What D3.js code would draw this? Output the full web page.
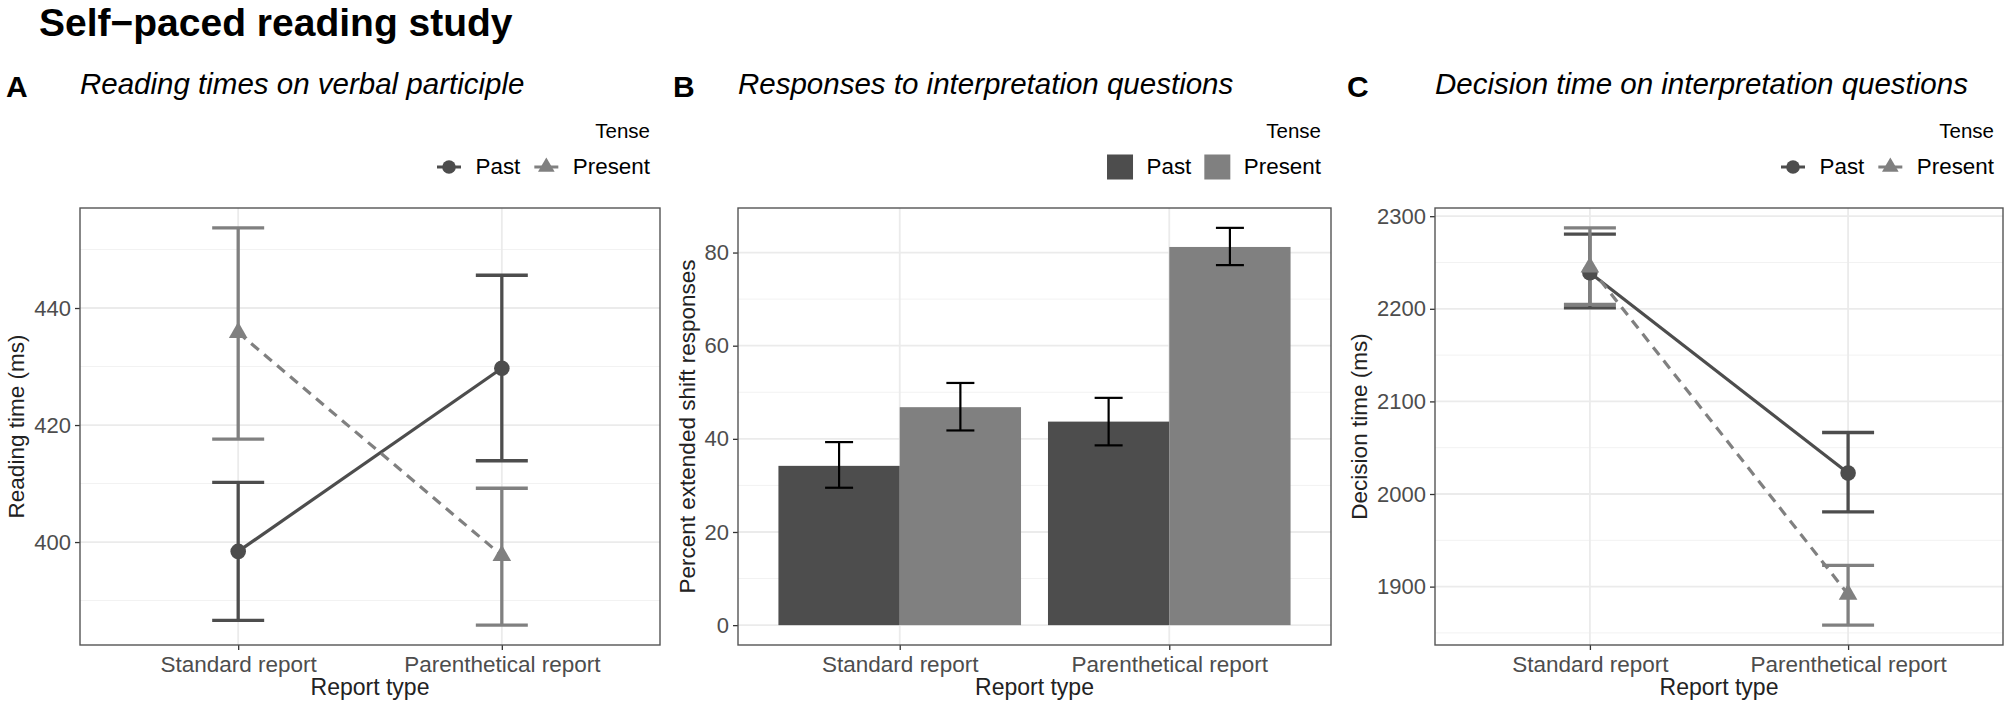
<!DOCTYPE html>
<html>
<head>
<meta charset="utf-8">
<script src="https://cdnjs.cloudflare.com/ajax/libs/d3/7.8.5/d3.min.js"></script>
<style>
  body { margin: 0; background: #fff; }
  text { font-family: "Liberation Sans", Arial, sans-serif; }
</style>
</head>
<body>
<svg id="fig" width="2008" height="707"></svg>
<script>
// categories and groups
const categories = ["Standard report", "Parenthetical report"];
const tenses = ["Past", "Present"];
const tenseColors = ["#4d4d4d", "#808080"];

// A: reading times on verbal participle (ms), mean and CI
const readPast = [398.4, 429.7];
const readPastLo = [386.6, 413.9];
const readPastHi = [410.2, 445.6];
const readPresent = [435.8, 397.7];
const readPresentLo = [417.6, 385.8];
const readPresentHi = [453.7, 409.2];
const readTicks = [400, 420, 440];
const readMinor = [390, 410, 430, 450];

// B: percent extended shift responses
const respPast = [34.2, 43.7];
const respPastLo = [29.5, 38.6];
const respPastHi = [39.3, 48.8];
const respPresent = [46.8, 81.2];
const respPresentLo = [41.8, 77.3];
const respPresentHi = [52.0, 85.3];
const respTicks = [0, 20, 40, 60, 80];
const respMinor = [10, 30, 50, 70];

// C: decision time on interpretation questions (ms)
const decPast = [2239, 2022.6];
const decPastLo = [2201, 1980.6];
const decPastHi = [2280.6, 2066.4];
const decPresent = [2245, 1891.7];
const decPresentLo = [2204.8, 1858.4];
const decPresentHi = [2287.4, 1923];
const decTicks = [1900, 2000, 2100, 2200, 2300];
const decMinor = [1850, 1950, 2050, 2150, 2250];

const svg = d3.select("#fig");
svg.append("rect").attr("width", 2008).attr("height", 707).attr("fill", "#fff");

const TOP = 208, BOTTOM = 645;

svg.append("text").attr("x", 39).attr("y", 36)
  .style("font-size", "39px").style("font-weight", "bold")
  .text("Self\u2212paced reading study");

function expand(lo, hi) {
  const d = (hi - lo) * 0.05;
  return [lo - d, hi + d];
}

// frame: grid, axes, titles, returns scales
function frame(p) {
  const g = svg.append("g");
  const x = d3.scalePoint().domain(categories).range([p.left, p.right]).padding(0.6);
  const y = d3.scaleLinear().domain(p.domain).range([BOTTOM, TOP]);

  g.append("text").attr("x", p.letterX).attr("y", 97)
    .style("font-size", "30px").style("font-weight", "bold").text(p.letter);
  g.append("text").attr("x", p.left).attr("y", 94)
    .style("font-size", "29.5px").style("font-style", "italic").text(p.title);

  g.selectAll(".minor").data(p.minor).join("line")
    .attr("x1", p.left).attr("x2", p.right)
    .attr("y1", d => y(d)).attr("y2", d => y(d))
    .attr("stroke", "#f2f2f2").attr("stroke-width", 1);
  g.selectAll(".major").data(p.ticks).join("line")
    .attr("x1", p.left).attr("x2", p.right)
    .attr("y1", d => y(d)).attr("y2", d => y(d))
    .attr("stroke", "#ebebeb").attr("stroke-width", 1.8);
  g.selectAll(".vmajor").data(categories).join("line")
    .attr("x1", d => x(d)).attr("x2", d => x(d))
    .attr("y1", TOP).attr("y2", BOTTOM)
    .attr("stroke", "#ebebeb").attr("stroke-width", 1.8);

  // y axis
  const ya = svg.append("g").attr("transform", `translate(${p.left},0)`)
    .call(d3.axisLeft(y).tickValues(p.ticks).tickSize(5).tickPadding(4).tickFormat(d3.format("d")));
  ya.select(".domain").remove();
  ya.selectAll(".tick line").attr("stroke", "#333").attr("stroke-width", 1.3);
  ya.selectAll("text").attr("fill", "#4d4d4d").style("font-size", "22px");

  // x axis
  const xa = svg.append("g").attr("transform", `translate(0,${BOTTOM})`)
    .call(d3.axisBottom(x).tickSize(5).tickPadding(6));
  xa.select(".domain").remove();
  xa.selectAll(".tick line").attr("stroke", "#333").attr("stroke-width", 1.3);
  xa.selectAll("text").attr("fill", "#4d4d4d").style("font-size", "22.5px").attr("dy", "0.71em");

  svg.append("text").attr("x", (p.left + p.right) / 2).attr("y", 695)
    .attr("text-anchor", "middle").attr("fill", "#222").style("font-size", "23px")
    .text("Report type");
  svg.append("text")
    .attr("transform", `translate(${p.ytitleX},${(TOP + BOTTOM) / 2}) rotate(-90)`)
    .attr("text-anchor", "middle").attr("fill", "#222").style("font-size", "22.5px")
    .text(p.ytitle);

  return { x, y, g };
}

function border(p) {
  svg.append("rect").attr("x", p.left).attr("y", TOP)
    .attr("width", p.right - p.left).attr("height", BOTTOM - TOP)
    .attr("fill", "none").attr("stroke", "#555").attr("stroke-width", 1.4);
}

function legend(right, kind) {
  const lg = svg.append("g");
  lg.append("text").attr("x", right).attr("y", 138).attr("text-anchor", "end")
    .style("font-size", "20.5px").text("Tense");
  let cursor = right;
  for (let i = tenses.length - 1; i >= 0; i--) {
    const t = lg.append("text").attr("x", cursor).attr("y", 174).attr("text-anchor", "end")
      .style("font-size", "22.4px").text(tenses[i]);
    const w = t.node().getComputedTextLength();
    const kx = cursor - w - 26.5;
    const ky = 167;
    if (kind === "bar") {
      lg.append("rect").attr("x", kx - 13).attr("y", ky - 12.5).attr("width", 26).attr("height", 25)
        .attr("fill", tenseColors[i]);
    } else {
      lg.append("line").attr("x1", kx - 12).attr("x2", kx + 12).attr("y1", ky).attr("y2", ky)
        .attr("stroke", tenseColors[i]).attr("stroke-width", 3);
      if (i === 0) {
        lg.append("circle").attr("cx", kx).attr("cy", ky).attr("r", 6.8).attr("fill", tenseColors[i]);
      } else {
        lg.append("path").attr("transform", `translate(${kx},${ky})`)
          .attr("d", d3.symbol(d3.symbolTriangle, 120)()).attr("fill", tenseColors[i]);
      }
    }
    cursor = kx - 26;
  }
}

function pointPanel(p, series) {
  const { x, y, g } = frame(p);
  const line = d3.line().x((d, i) => x(categories[i])).y(d => y(d));
  series.forEach((s, k) => {
    g.append("path").attr("d", line(s.mean)).attr("fill", "none")
      .attr("stroke", tenseColors[k]).attr("stroke-width", 3.2)
      .attr("stroke-dasharray", k === 1 ? "10,7" : null);
  });
  series.forEach((s, k) => {
    const eb = g.append("g").attr("stroke", tenseColors[k]).attr("stroke-width", 3.3);
    categories.forEach((c, i) => {
      const cx = x(c);
      eb.append("line").attr("x1", cx).attr("x2", cx).attr("y1", y(s.lo[i])).attr("y2", y(s.hi[i]));
      eb.append("line").attr("x1", cx - 26).attr("x2", cx + 26).attr("y1", y(s.lo[i])).attr("y2", y(s.lo[i]));
      eb.append("line").attr("x1", cx - 26).attr("x2", cx + 26).attr("y1", y(s.hi[i])).attr("y2", y(s.hi[i]));
    });
  });
  series.forEach((s, k) => {
    categories.forEach((c, i) => {
      if (k === 0) {
        g.append("circle").attr("cx", x(c)).attr("cy", y(s.mean[i])).attr("r", 7.8).attr("fill", tenseColors[k]);
      } else {
        g.append("path").attr("transform", `translate(${x(c)},${y(s.mean[i])})`)
          .attr("d", d3.symbol(d3.symbolTriangle, 150)()).attr("fill", tenseColors[k]);
      }
    });
  });
  border(p);
  legend(p.legendRight, "point");
}

function barPanel(p, series) {
  const { x, y, g } = frame(p);
  const unit = x.step();
  const bw = unit * 0.45;
  series.forEach((s, k) => {
    categories.forEach((c, i) => {
      const bx = x(c) - bw + k * bw;
      g.append("rect").attr("x", bx).attr("width", bw)
        .attr("y", y(s.mean[i])).attr("height", y(0) - y(s.mean[i]))
        .attr("fill", tenseColors[k]);
    });
  });
  series.forEach((s, k) => {
    const eb = g.append("g").attr("stroke", "#000").attr("stroke-width", 2.2);
    categories.forEach((c, i) => {
      const cx = x(c) - bw / 2 + k * bw;
      eb.append("line").attr("x1", cx).attr("x2", cx).attr("y1", y(s.lo[i])).attr("y2", y(s.hi[i]));
      eb.append("line").attr("x1", cx - 14).attr("x2", cx + 14).attr("y1", y(s.lo[i])).attr("y2", y(s.lo[i]));
      eb.append("line").attr("x1", cx - 14).attr("x2", cx + 14).attr("y1", y(s.hi[i])).attr("y2", y(s.hi[i]));
    });
  });
  border(p);
  legend(p.legendRight, "bar");
}

pointPanel({
  left: 80, right: 660, letter: "A", letterX: 6,
  title: "Reading times on verbal participle",
  domain: expand(d3.min(readPastLo.concat(readPresentLo)), d3.max(readPastHi.concat(readPresentHi))),
  ticks: readTicks, minor: readMinor,
  ytitle: "Reading time (ms)", ytitleX: 24, legendRight: 650
}, [
  { mean: readPast, lo: readPastLo, hi: readPastHi },
  { mean: readPresent, lo: readPresentLo, hi: readPresentHi }
]);

barPanel({
  left: 738, right: 1331, letter: "B", letterX: 673,
  title: "Responses to interpretation questions",
  domain: expand(0, d3.max(respPastHi.concat(respPresentHi))),
  ticks: respTicks, minor: respMinor,
  ytitle: "Percent extended shift responses", ytitleX: 695, legendRight: 1321
}, [
  { mean: respPast, lo: respPastLo, hi: respPastHi },
  { mean: respPresent, lo: respPresentLo, hi: respPresentHi }
]);

pointPanel({
  left: 1435, right: 2003, letter: "C", letterX: 1347,
  title: "Decision time on interpretation questions",
  domain: expand(d3.min(decPastLo.concat(decPresentLo)), d3.max(decPastHi.concat(decPresentHi))),
  ticks: decTicks, minor: decMinor,
  ytitle: "Decision time (ms)", ytitleX: 1367, legendRight: 1994
}, [
  { mean: decPast, lo: decPastLo, hi: decPastHi },
  { mean: decPresent, lo: decPresentLo, hi: decPresentHi }
]);
</script>
</body>
</html>
